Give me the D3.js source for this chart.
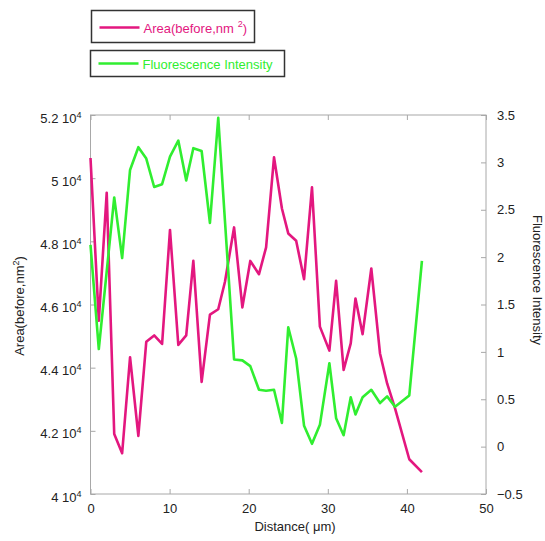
<!DOCTYPE html>
<html>
<head>
<meta charset="utf-8">
<script src="https://cdn.jsdelivr.net/npm/d3@7"></script>
<style>
  body { margin: 0; background: #fff; }
  text { font-family: "Liberation Sans", Arial, sans-serif; }
</style>
</head>
<body>
<script>
// distance along the profile (um)
const distance = [0, 1.05, 2.05, 3, 4, 5, 6.05, 7.05, 8.05, 9.05, 10.05, 11.1, 12.1, 13, 14.05, 15.1,
    16.15, 17, 18.15, 19.2, 20.2, 21.3, 22.2, 23.2, 24.2, 25, 26, 27, 28, 29, 30.2, 31.05, 32, 32.9,
    33.5, 34.4, 35.5, 36.6, 37.5, 38.5, 40.3, 41.9]
// area before (nm^2)
const area = [50640, 45490, 49540, 41900, 41290, 44330, 41840, 44820, 45020, 44750, 48360, 44720,
    45020, 47380, 43550, 45680, 45850, 46720, 48440, 45910, 47380, 46960, 47810, 50660, 49040, 48250,
    48020, 46800, 49710, 45300, 44540, 46750, 43930, 44770, 46190, 45060, 47140, 44450, 43500, 42710,
    41100, 40690]
// fluorescence intensity
const fluo = [2.13, 1.03, 1.85, 2.63, 1.99, 2.92, 3.16, 3.04, 2.74, 2.77, 3.06, 3.23, 2.81, 3.15, 3.12,
    2.36, 3.47, 2.38, 0.92, 0.91, 0.85, 0.60, 0.59, 0.60, 0.25, 1.26, 0.93, 0.22, 0.03, 0.23, 0.88, 0.30,
    0.12, 0.52, 0.34, 0.52, 0.60, 0.46, 0.53, 0.42, 0.54, 1.96]

const xTicks = [0, 10, 20, 30, 40, 50]
const leftTicks = [40000, 42000, 44000, 46000, 48000, 50000, 52000]
const rightTicks = [-0.5, 0, 0.5, 1, 1.5, 2, 2.5, 3, 3.5]
const legendLabels = ['Area(before,nm', 'Fluorescence Intensity']

const pink = '#e3177f'
const green = '#30ee30'
const grey = '#a8a8a8'
const fs = '13px'

const W = 545, H = 541
const plot = {left: 90.5, right: 486, top: 115, bottom: 494}

const svg = d3.select('body').append('svg')
    .attr('width', W)
    .attr('height', H)

const x = d3.scaleLinear().domain([0, 50]).range([plot.left, plot.right])
const yL = d3.scaleLinear().domain([40000, 52000]).range([plot.bottom, plot.top])
const yR = d3.scaleLinear().domain([-0.5, 3.5]).range([plot.bottom, plot.top])

// frame
svg.append('rect')
    .attr('x', plot.left)
    .attr('y', plot.top)
    .attr('width', plot.right - plot.left)
    .attr('height', plot.bottom - plot.top)
    .attr('fill', 'none')
    .attr('stroke', grey)
    .attr('stroke-width', 1)

function styleAxis(g) {
    g.select('.domain').remove()
    g.selectAll('line').attr('stroke', grey)
    g.selectAll('text')
        .attr('fill', '#222')
        .style('font-size', fs)
}

// bottom axis
svg.append('g')
    .attr('transform', 'translate(0,' + plot.bottom + ')')
    .call(d3.axisBottom(x).tickValues(xTicks).tickSize(-5).tickPadding(10).tickFormat(d3.format('d')))
    .call(styleAxis)

// top ticks
svg.append('g')
    .attr('transform', 'translate(0,' + plot.top + ')')
    .call(d3.axisTop(x).tickValues(xTicks).tickSize(-5).tickFormat(''))
    .call(styleAxis)

// left axis
const leftAxis = svg.append('g')
    .attr('transform', 'translate(' + plot.left + ',0)')
    .call(d3.axisLeft(yL).tickValues(leftTicks).tickSize(-5).tickPadding(9).tickFormat(''))
    .call(styleAxis)

leftAxis.selectAll('.tick text')
    .attr('dy', '0.55em')
    .each(function(d) {
        const t = d3.select(this)
        t.append('tspan').text(d3.format('~g')(d / 10000) + ' 10')
        t.append('tspan').attr('dy', '-5').style('font-size', '9px').text('4')
    })

// right axis
svg.append('g')
    .attr('transform', 'translate(' + plot.right + ',0)')
    .call(d3.axisRight(yR).tickValues(rightTicks).tickSize(-5).tickPadding(11).tickFormat(d3.format('~g')))
    .call(styleAxis)

// series lines
const lineL = d3.line().x((d, i) => x(distance[i])).y(d => yL(d))
const lineR = d3.line().x((d, i) => x(distance[i])).y(d => yR(d))

svg.append('path')
    .datum(area)
    .attr('d', lineL)
    .attr('fill', 'none')
    .attr('stroke', pink)
    .attr('stroke-width', 2.6)
    .attr('stroke-linejoin', 'round')

svg.append('path')
    .datum(fluo)
    .attr('d', lineR)
    .attr('fill', 'none')
    .attr('stroke', green)
    .attr('stroke-width', 2.6)
    .attr('stroke-linejoin', 'round')

// axis titles
svg.append('text')
    .attr('x', 295)
    .attr('y', 531)
    .attr('text-anchor', 'middle')
    .style('font-size', fs)
    .attr('fill', '#222')
    .text('Distance( \u03bcm)')

const lt = svg.append('text')
    .attr('transform', 'translate(24,306) rotate(-90)')
    .attr('text-anchor', 'middle')
    .style('font-size', fs)
    .attr('fill', '#222')
lt.append('tspan').text('Area(before,nm')
lt.append('tspan').attr('dy', -5).style('font-size', '9px').text('2')
lt.append('tspan').attr('dy', 5).text(')')

svg.append('text')
    .attr('transform', 'translate(533,280) rotate(90)')
    .attr('text-anchor', 'middle')
    .style('font-size', fs)
    .attr('fill', '#222')
    .text('Fluorescence Intensity')

// legend
const legendBoxes = [
    {x: 91.5, y: 10.5, w: 163, h: 32, color: pink},
    {x: 90.5, y: 50.5, w: 194, h: 26, color: green}
]
legendBoxes.forEach((b, i) => {
    const g = svg.append('g')
    g.append('rect')
        .attr('x', b.x).attr('y', b.y)
        .attr('width', b.w).attr('height', b.h)
        .attr('fill', '#fff')
        .attr('stroke', '#333')
        .attr('stroke-width', 1.5)
    const cy = b.y + b.h / 2 + (i === 0 ? 1 : 0)
    g.append('line')
        .attr('x1', b.x + 8).attr('x2', b.x + 48)
        .attr('y1', cy).attr('y2', cy)
        .attr('stroke', b.color)
        .attr('stroke-width', 2.6)
    const t = g.append('text')
        .attr('x', b.x + 52)
        .attr('y', cy + 5)
        .attr('fill', b.color)
        .style('font-size', fs)
    t.append('tspan').text(legendLabels[i])
    if (i === 0) {
        t.append('tspan').attr('dx', 4).attr('dy', -6).style('font-size', '9px').text('2')
        t.append('tspan').attr('dy', 6).text(')')
    }
})
</script>
</body>
</html>
